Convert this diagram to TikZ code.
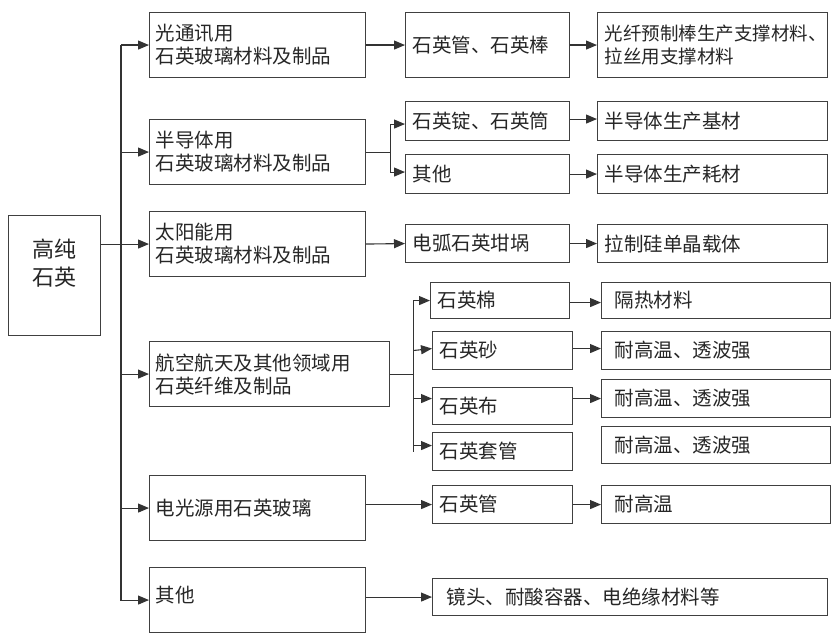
\documentclass[tikz,border=0pt]{standalone}
\usepackage{fontspec}
\setmainfont{Noto Sans CJK SC}
\usetikzlibrary{arrows.meta,calc}
\newcommand\fsz{\fontsize{19.5}{23}\selectfont}
\newcommand\fszsmall{\fontsize{18.5}{23}\selectfont}
\newcommand\fszbig{\fontsize{22}{28}\selectfont}
\begin{document}
\begin{tikzpicture}[x=1pt,y=-1pt,
  line width=1.1pt, draw=black!78,
  box/.style={draw=black!75, line width=1.1pt, anchor=north west, align=left,
    inner xsep=6pt, inner ysep=0pt, font=\fsz, text=black!85},
  arr/.style={draw=black!80, line width=1.1pt, -{Triangle[length=11pt,width=9pt]}},
  ln/.style={draw=black!80, line width=1.1pt}]
\useasboundingbox (0,0) rectangle (838,642);
\fill[white] (0,0) rectangle (838,642);
% root
\node[box, align=center, text width=80, inner xsep=6pt, minimum height=120] (root) at (8,215) {\raisebox{12pt}[\height][\depth]{\parbox{80pt}{\centering\fszbig 高纯\\石英}}};
% level 1
\node[box, text width=204, minimum height=65] (l1) at (149,12) {光通讯用\\石英玻璃材料及制品};
\node[box, text width=204, minimum height=65] (l2) at (149,119) {半导体用\\石英玻璃材料及制品};
\node[box, text width=204, minimum height=65] (l3) at (149,211) {太阳能用\\石英玻璃材料及制品};
\node[box, text width=228, minimum height=65] (l4) at (149,341) {航空航天及其他领域用\\石英纤维及制品};
\node[box, text width=204, minimum height=65] (l5) at (149,475) {电光源用石英玻璃};
\node[box, text width=204, minimum height=65] (l6) at (149,567) {\raisebox{5pt}[\height][\depth]{其他}};
% level 2
\node[box, inner xsep=7pt, text width=150, minimum height=65] (a1) at (405,12) {石英管、石英棒};
\node[box, inner xsep=7pt, text width=150, minimum height=39] (b1) at (405,101) {石英锭、石英筒};
\node[box, inner xsep=7pt, text width=150, minimum height=39] (b2) at (405,154) {其他};
\node[box, inner xsep=7pt, text width=150, minimum height=38] (c1) at (405,224) {电弧石英坩埚};
\node[box, inner xsep=7pt, text width=125, minimum height=36] (d1) at (430,282) {石英棉};
\node[box, inner xsep=7pt, text width=126, minimum height=38] (d2) at (432,331) {石英砂};
\node[box, inner xsep=7pt, text width=126, minimum height=37] (d3) at (432,387) {石英布};
\node[box, inner xsep=7pt, text width=126, minimum height=38] (d4) at (432,432) {石英套管};
\node[box, inner xsep=7pt, text width=126, minimum height=38] (f1) at (432,485) {石英管};
\node[box, inner xsep=14pt, text width=367, minimum height=37] (g1) at (432,578) {镜头、耐酸容器、电绝缘材料等};
% level 3
\node[box, inner xsep=7pt, text width=216, minimum height=65, font=\fszsmall] (a2) at (597,12) {光纤预制棒生产支撑材料、\\拉丝用支撑材料};
\node[box, inner xsep=7pt, text width=216, minimum height=39] (b3) at (597,101) {半导体生产基材};
\node[box, inner xsep=7pt, text width=216, minimum height=39] (b4) at (597,154) {半导体生产耗材};
\node[box, inner xsep=7pt, text width=216, minimum height=38] (c2) at (597,224) {拉制硅单晶载体};
\node[box, inner xsep=13pt, text width=203, minimum height=36] (e1) at (601,282) {隔热材料};
\node[box, inner xsep=13pt, text width=203, minimum height=38] (e2) at (601,331) {耐高温、透波强};
\node[box, inner xsep=13pt, text width=203, minimum height=38] (e3) at (601,379) {耐高温、透波强};
\node[box, inner xsep=13pt, text width=203, minimum height=37] (e4) at (601,426) {耐高温、透波强};
\node[box, inner xsep=13pt, text width=203, minimum height=38] (f2) at (601,485) {耐高温};
% trunk
\coordinate (T1) at ($(l1.west)+(-28,0)$);
\draw[ln] (root.east |- l3.west) -- (T1 |- l3.west);
\draw[arr] (T1) -- (l1.west);
\draw[arr] (T1) |- (l6.west);
\draw[arr] (T1 |- l2.west) -- (l2.west);
\draw[arr] (T1 |- l3.west) -- (l3.west);
\draw[arr] (T1 |- l4.west) -- (l4.west);
\draw[arr] (T1 |- l5.west) -- (l5.west);
% level 1 -> level 2
\draw[arr] (l1.east) -- (a1.west);
\draw[ln] (l2.east) -- ++(24,0) coordinate (J2);
\draw[arr] (J2) |- ([yshift=-3pt]b1.west);
\draw[arr] (J2) |- ([yshift=2pt]b2.west);
\draw[arr] (l3.east) -- (c1.west);
\draw[ln] (l4.east) -- ++(23,0) coordinate (J4);
\draw[ln] (J4 |- d1.west) -- (J4 |- d4.west);
\draw[arr] (J4 |- d1.west) -- (d1.west);
\draw[arr] (J4 |- d2.west) -- ([yshift=2pt]d2.west);
\draw[arr] (J4 |- e3.west) -- (d3.west |- e3.west);
\draw[arr] ([yshift=6pt]J4 |- d4.west) -- ([yshift=6pt]d4.west);
\draw[arr] (l5.east |- f1.west) -- (f1.west);
\draw[arr] (l6.east |- g1.west) -- (g1.west);
% level 2 -> level 3
\draw[arr] (a1.east) -- (a2.west);
\draw[arr] ([yshift=2pt]b1.east) -- ([yshift=2pt]b3.west);
\draw[arr] (b2.east) -- (b4.west);
\draw[arr] (c1.east) -- (c2.west);
\draw[arr] ([yshift=-2pt]d1.east) -- ([yshift=-2pt]e1.west);
\draw[arr] ([yshift=2pt]d2.east) -- ([yshift=2pt]e2.west);
\draw[arr] (d3.east |- e3.west) -- (e3.west);
\draw[arr] (f1.east) -- (f2.west);
\end{tikzpicture}
\end{document}
